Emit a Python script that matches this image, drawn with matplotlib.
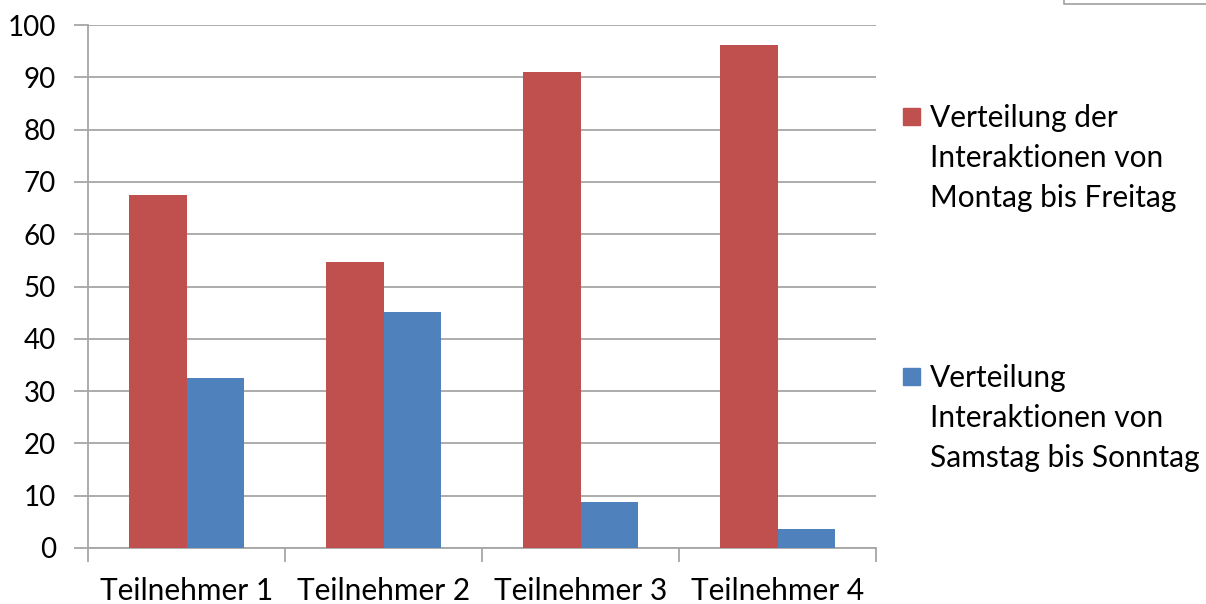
import matplotlib
matplotlib.use("Agg")
import matplotlib.pyplot as plt
from matplotlib.patches import Rectangle
from matplotlib.lines import Line2D
import numpy as np

categories = ["Teilnehmer 1", "Teilnehmer 2", "Teilnehmer 3", "Teilnehmer 4"]
weekday = [67.4, 54.6, 91.0, 96.2]
weekend = [32.6, 45.2, 8.8, 3.6]
series_labels = ["Verteilung der\nInteraktionen von\nMontag bis Freitag",
                 "Verteilung\nInteraktionen von\nSamstag bis Sonntag"]
yticks = [0, 10, 20, 30, 40, 50, 60, 70, 80, 90, 100]

RED = "#C0504D"
BLUE = "#4F81BD"
GRID = "#A6A6A6"
FONT = "Lato"
FS = 21.5

W, H = 1206, 604
fig = plt.figure(figsize=(W / 100, H / 100), dpi=100)
ax = fig.add_axes([88 / W, (H - 548) / H, (876 - 88) / W, (548 - 25) / H])

x = np.arange(len(categories))
bw = 0.29
ax.bar(x - bw / 2, weekday, bw, color=RED, zorder=3)
ax.bar(x + bw / 2, weekend, bw, color=BLUE, zorder=3)

ax.set_xlim(-0.5, len(categories) - 0.5)
ax.set_ylim(0, 100)
ax.set_yticks(yticks)
ax.set_yticklabels([str(v) for v in yticks], fontsize=20, family=FONT)
ax.yaxis.grid(True, color=GRID, linewidth=1.3, zorder=0)
ax.tick_params(axis="y", length=10, width=1.3, color=GRID, pad=13)

ax.set_xticks(x)
ax.set_xticklabels(categories, fontsize=FS, family=FONT)
ax.tick_params(axis="x", which="major", length=0, pad=21)
ax.set_xticks(np.arange(-0.5, len(categories), 1.0), minor=True)
ax.tick_params(axis="x", which="minor", length=10, width=1.3, color=GRID)

for s in ["top", "right"]:
    ax.spines[s].set_visible(False)
for s in ["left", "bottom"]:
    ax.spines[s].set_color(GRID)
    ax.spines[s].set_linewidth(1.3)

def fx(px):
    return px / W

def fy(py):
    return (H - py) / H

legend_rows = [(117, RED), (377, BLUE)]
for (ytop, col), lab in zip(legend_rows, series_labels):
    fig.patches.append(Rectangle((fx(903), fy(ytop + 8)), 17 / W, 17 / H,
                                 transform=fig.transFigure, color=col))
    fig.text(fx(930), fy(ytop - 13), lab, fontsize=FS, family=FONT,
             va="top", ha="left", linespacing=1.52)

fig.add_artist(Line2D([fx(1064), fx(1064), fx(1206)], [fy(-2), fy(4), fy(4)],
                      transform=fig.transFigure, color=GRID, linewidth=1.3))

fig.savefig("out.png", dpi=100)
